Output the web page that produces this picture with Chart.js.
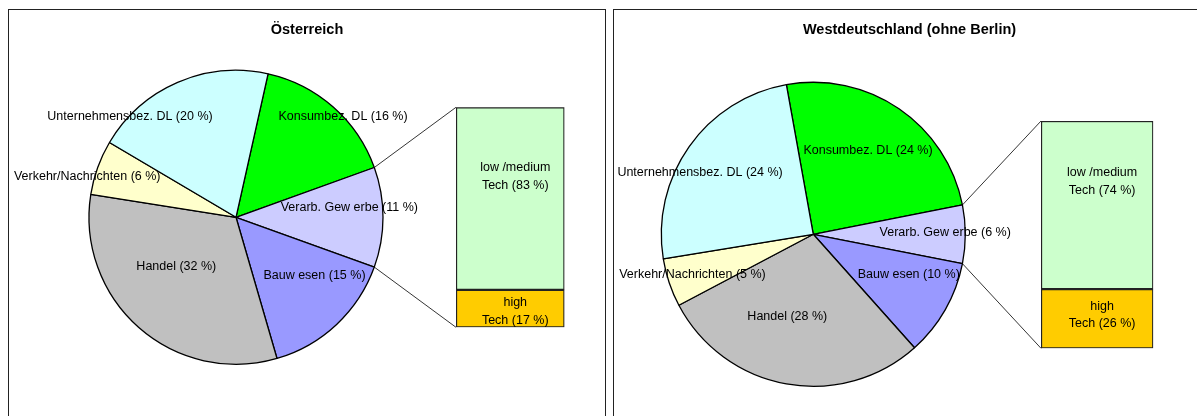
<!DOCTYPE html>
<html>
<head>
<meta charset="utf-8">
<script src="https://cdn.jsdelivr.net/npm/chart.js@4.4.1/dist/chart.umd.min.js"></script>
<style>
    html, body { margin: 0; padding: 0; width: 1197px; height: 416px; overflow: hidden; background: #fff; }
    .panel { position: absolute; top: 9px; height: 420px; border: 1px solid #222; box-sizing: border-box; }
    .panel canvas { position: absolute; left: 0; top: 0; }
</style>
</head>
<body>
<div class="panel" id="panel-at"><canvas id="pie-at"></canvas><canvas id="bar-at"></canvas></div>
<div class="panel" id="panel-wd"><canvas id="pie-wd"></canvas><canvas id="bar-wd"></canvas></div>
<script>
    // Wirtschaftsbereiche (im Uhrzeigersinn, beginnend mit Konsumbez. DL)
    const sectors = ['Konsumbez. DL', 'Verarb. Gew erbe', 'Bauw esen', 'Handel', 'Verkehr/Nachrichten', 'Unternehmensbez. DL'];
    const sectorColors = ['#00FF00', '#CCCCFF', '#9999FF', '#C0C0C0', '#FFFFCC', '#CCFFFF'];

    // Österreich
    const atShares = [16, 11, 15, 32, 6, 20];
    const atTech = [17, 83];          // high, low/medium

    // Westdeutschland (ohne Berlin)
    const wdShares = [24, 6, 10, 28, 5, 24];
    const wdTech = [26, 74];

    const techLines = [['high', 'Tech'], ['low /medium', 'Tech']];
    const techColors = ['#FFCC00', '#CCFFCC'];
    const splitIndex = 1;             // Verarb. Gewerbe wird im Balken aufgeteilt

    const FONT = "Arial, 'Liberation Sans', sans-serif";

    const panels = [
        {
            key: 'at', title: 'Österreich', shares: atShares, tech: atTech,
            box: { left: 8, width: 598 },
            pie: { cx: 236, cy: 217.3, r: 147 },
            bar: { x0: 456, x1: 564.5, y0: 107.3, y1: 327.3 },
            labelPos: [[0.728, -0.687], [0.771, -0.066], [0.534, 0.395], [-0.406, 0.333], [-1.012, -0.279], [-0.721, -0.687]],
            techPos: [0.58, 0.38]
        },
        {
            key: 'wd', title: 'Westdeutschland (ohne Berlin)', shares: wdShares, tech: wdTech,
            box: { left: 613, width: 593 },
            pie: { cx: 813.3, cy: 234.3, r: 152 },
            bar: { x0: 1041, x1: 1153.3, y0: 121, y1: 348.3 },
            labelPos: [[0.360, -0.548], [0.868, -0.011], [0.628, 0.266], [-0.171, 0.542], [-0.795, 0.268], [-0.745, -0.403]],
            techPos: [0.44, 0.36]
        }
    ];

    function buildPanel(p) {
        const panel = document.getElementById('panel-' + p.key);
        panel.style.left = p.box.left + 'px';
        panel.style.width = p.box.width + 'px';
        const ox = p.box.left + 1, oy = 10;          // Ursprung der Canvas auf der Seite
        const W = p.box.width - 2, H = 410;

        const pieCanvas = document.getElementById('pie-' + p.key);
        const barCanvas = document.getElementById('bar-' + p.key);
        [pieCanvas, barCanvas].forEach(c => { c.width = W; c.height = H; });

        const total = p.shares.reduce((a, b) => a + b, 0);
        const before = p.shares.slice(0, splitIndex).reduce((a, b) => a + b, 0);
        const rotation = 90 - (before + p.shares[splitIndex] / 2) / total * 360;

        const cx = p.pie.cx - ox, cy = p.pie.cy - oy, r = p.pie.r;

        const pieLabels = {
            id: 'pieLabels',
            afterDatasetsDraw(chart) {
                const ctx = chart.ctx;
                const arcs = chart.getDatasetMeta(0).data;
                ctx.save();
                ctx.fillStyle = '#000';
                ctx.textAlign = 'center';
                ctx.textBaseline = 'middle';
                ctx.font = '12.5px ' + FONT;
                arcs.forEach((arc, i) => {
                    const [fx, fy] = p.labelPos[i];
                    const txt = sectors[i] + ' (' + p.shares[i] + ' %)';
                    ctx.fillText(txt, arc.x + fx * arc.outerRadius, arc.y + fy * arc.outerRadius);
                });
                ctx.font = 'bold 14.5px ' + FONT;
                ctx.fillText(p.title, W / 2, 29.5 - oy);
                ctx.restore();
            }
        };

        const pieChart = new Chart(pieCanvas.getContext('2d'), {
            type: 'pie',
            data: {
                labels: sectors,
                datasets: [{
                    data: p.shares,
                    backgroundColor: sectorColors,
                    borderColor: '#000',
                    borderWidth: 1.3
                }]
            },
            options: {
                responsive: false,
                animation: false,
                events: [],
                rotation: rotation,
                radius: r,
                layout: { padding: { left: cx - r, right: W - cx - r, top: cy - r, bottom: H - cy - r } },
                plugins: { legend: { display: false }, tooltip: { enabled: false } }
            },
            plugins: [pieLabels]
        });

        const barOverlay = {
            id: 'barOverlay',
            afterDatasetsDraw(chart) {
                const ctx = chart.ctx;
                const low = chart.getDatasetMeta(0).data[0];
                const up = chart.getDatasetMeta(1).data[0];
                const left = up.x - up.width / 2;
                const arc = pieChart.getDatasetMeta(0).data[splitIndex];
                const R = arc.outerRadius;
                ctx.save();
                ctx.strokeStyle = '#000';
                ctx.lineWidth = 0.8;
                ctx.beginPath();
                ctx.moveTo(arc.x + R * Math.cos(arc.startAngle), arc.y + R * Math.sin(arc.startAngle));
                ctx.lineTo(left, up.y);
                ctx.moveTo(arc.x + R * Math.cos(arc.endAngle), arc.y + R * Math.sin(arc.endAngle));
                ctx.lineTo(left, low.base);
                ctx.stroke();

                ctx.fillStyle = '#000';
                ctx.textAlign = 'center';
                ctx.textBaseline = 'middle';
                ctx.font = '12.5px ' + FONT;
                [low, up].forEach((el, i) => {
                    const top = Math.min(el.y, el.base), bottom = Math.max(el.y, el.base);
                    const yc = top + p.techPos[i] * (bottom - top);
                    const lines = techLines[i].slice();
                    lines[lines.length - 1] += ' (' + p.tech[i] + ' %)';
                    lines.forEach((line, k) => {
                        ctx.fillText(line, el.x + 5, yc + (k - (lines.length - 1) / 2) * 17.5);
                    });
                });
                ctx.restore();
            }
        };

        const bx0 = p.bar.x0 - ox, bx1 = p.bar.x1 - ox, by0 = p.bar.y0 - oy, by1 = p.bar.y1 - oy;
        new Chart(barCanvas.getContext('2d'), {
            type: 'bar',
            data: {
                labels: [sectors[splitIndex]],
                datasets: techLines.map((t, i) => ({
                    label: t.join(' '),
                    data: [p.tech[i]],
                    backgroundColor: techColors[i],
                    borderColor: '#222',
                    borderWidth: 1.5,
                    borderSkipped: false,
                    barPercentage: 1,
                    categoryPercentage: 1
                }))
            },
            options: {
                responsive: false,
                animation: false,
                events: [],
                layout: { padding: { left: bx0, right: W - bx1, top: by0, bottom: H - by1 } },
                scales: {
                    x: { display: false, stacked: true },
                    y: { display: false, stacked: true, min: 0, max: 100 }
                },
                plugins: { legend: { display: false }, tooltip: { enabled: false } }
            },
            plugins: [barOverlay]
        });
    }

    panels.forEach(buildPanel);
</script>
</body>
</html>
